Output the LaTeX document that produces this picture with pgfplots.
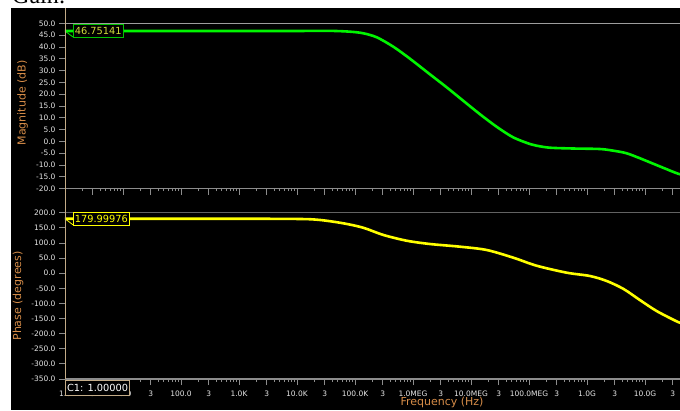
\documentclass[border=0pt]{standalone}
\usepackage{fontspec}
\setmainfont{DejaVu Sans}
\newfontfamily\gainfont{Liberation Serif}
\usepackage{pgfplots}
\pgfplotsset{compat=1.18}
\definecolor{tk}{RGB}{140,140,140}
\definecolor{tl}{RGB}{228,228,228}
\definecolor{lab}{RGB}{214,140,72}
\definecolor{cur}{RGB}{196,172,136}
\definecolor{gr}{RGB}{0,245,0}
\definecolor{yl}{RGB}{255,255,0}
\definecolor{gtxt}{RGB}{210,220,60}
\newcommand{\tre}{\raisebox{4pt}{3}}

\begin{document}
\begin{tikzpicture}
\path[use as bounding box] (0pt,0pt) rectangle (680pt,410pt);
\clip (0pt,0pt) rectangle (680pt,410pt);
\fill[white] (0pt,0pt) rectangle (680pt,410pt);
\node[anchor=base west, inner sep=0pt, font=\gainfont\fontsize{24}{26}\selectfont, text=black] at (12pt,406pt) {Gain:};
\fill[black] (11pt,0pt) rectangle (690pt,402pt);

% ---------------- Magnitude ----------------
\begin{axis}[
  scale only axis, width=615pt, height=165.4pt,
  at={(65pt,221.3pt)}, anchor=south west,
  xmode=log, xmin=1, xmax=4.01e10,
  ymin=-20, ymax=50,
  clip=false,
  axis line style={draw=none},
  xtick pos=left, ytick pos=left,
  tick align=outside,
  major tick length=6pt, minor tick length=2.5pt,
  tick style={draw=tk, line width=0.8pt},
  xtick={1,3,10,30,100,300,1000,3000,1e4,3e4,1e5,3e5,1e6,3e6,1e7,3e7,1e8,3e8,1e9,3e9,1e10,3e10},
  xticklabels={},
  minor xtick={2,4,5,6,7,8,9,20,40,50,60,70,80,90,200,400,500,600,700,800,900,
      2e3,4e3,5e3,6e3,7e3,8e3,9e3,2e4,4e4,5e4,6e4,7e4,8e4,9e4,
      2e5,4e5,5e5,6e5,7e5,8e5,9e5,2e6,4e6,5e6,6e6,7e6,8e6,9e6,
      2e7,4e7,5e7,6e7,7e7,8e7,9e7,2e8,4e8,5e8,6e8,7e8,8e8,9e8,
      2e9,4e9,5e9,6e9,7e9,8e9,9e9,2e10},
  ytick={-20,-15,-10,-5,0,5,10,15,20,25,30,35,40,45,50},
  yticklabels={-20.0,-15.0,-10.0,-5.0,0.0,5.0,10.0,15.0,20.0,25.0,30.0,35.0,40.0,45.0,50.0},
  yticklabel style={font=\fontsize{7.5}{8}\selectfont, text=tl},
  ylabel={Magnitude (dB)},
  ylabel style={font=\fontsize{11}{12}\selectfont, text=lab, at={(axis description cs:-0.0691,0.518)}, anchor=center},
]
\draw[color=tk, line width=1pt] (rel axis cs:0,0) -- (rel axis cs:1.02,0);
\draw[color=tk!85!white, line width=1pt] (rel axis cs:0,1) -- (rel axis cs:1.02,1);
\addplot[gr, line width=2.6pt, smooth] table {
1        46.75
1e3      46.75
1e4      46.75
3.71e4   46.8
8.20e4   46.45
1.39e5   45.77
2.37e5   44.08
4.57e5   40.1
8.87e5   35.0
1.96e6   28.4
3.81e6   22.9
7.36e6   17.2
1.43e7   11.5
2.77e7   6.2
5.36e7   1.7
1.04e8   -1.1
1.35e8   -1.8
2.29e8   -2.65
6.0e8    -3.0
1.66e9   -3.2
2.82e9   -3.9
4.79e9   -5.0
8.13e9   -7.1
1.58e10  -10.0
3.31e10  -13.2
4.17e10  -14.0
};
\draw[gr, line width=0.8pt] (axis cs:1,46.75) -- (axis cs:1.37,44.2);
\node[draw=gr!80!black, fill=black, text=gtxt, line width=0.8pt, anchor=west,
  inner xsep=1.5pt, inner ysep=0pt, minimum height=13pt, xshift=8pt,
  font=\fontsize{9.8}{10}\selectfont] at (axis cs:1,46.75) {46.75141};
\end{axis}

% ---------------- Phase ----------------
\begin{axis}[
  scale only axis, width=615pt, height=166.3pt,
  at={(65pt,31pt)}, anchor=south west,
  xmode=log, xmin=1, xmax=4.01e10,
  ymin=-350, ymax=200,
  clip=false,
  axis line style={draw=none},
  xtick pos=left, ytick pos=left,
  tick align=outside,
  major tick length=6pt, minor tick length=2.5pt,
  tick style={draw=tk, line width=0.8pt},
  xtick={1,3,10,30,100,300,1000,3000,1e4,3e4,1e5,3e5,1e6,3e6,1e7,3e7,1e8,3e8,1e9,3e9,1e10,3e10},
  xticklabels={1.0,\tre,10.0,\tre,100.0,\tre,1.0K,\tre,10.0K,\tre,100.0K,\tre,1.0MEG,\tre,10.0MEG,\tre,100.0MEG,\tre,1.0G,\tre,10.0G,\tre},
  xticklabel style={font=\fontsize{7.5}{8}\selectfont, text=tl, yshift=-2pt},
  minor xtick={2,4,5,6,7,8,9,20,40,50,60,70,80,90,200,400,500,600,700,800,900,
      2e3,4e3,5e3,6e3,7e3,8e3,9e3,2e4,4e4,5e4,6e4,7e4,8e4,9e4,
      2e5,4e5,5e5,6e5,7e5,8e5,9e5,2e6,4e6,5e6,6e6,7e6,8e6,9e6,
      2e7,4e7,5e7,6e7,7e7,8e7,9e7,2e8,4e8,5e8,6e8,7e8,8e8,9e8,
      2e9,4e9,5e9,6e9,7e9,8e9,9e9,2e10},
  ytick={-350,-300,-250,-200,-150,-100,-50,0,50,100,150,200},
  yticklabels={-350.0,-300.0,-250.0,-200.0,-150.0,-100.0,-50.0,0.0,50.0,100.0,150.0,200.0},
  yticklabel style={font=\fontsize{7.5}{8}\selectfont, text=tl},
  ylabel={Phase (degrees)},
  ylabel style={font=\fontsize{11}{12}\selectfont, text=lab, at={(axis description cs:-0.0764,0.499)}, anchor=center},
  xlabel={Frequency (Hz)},
  xlabel style={font=\fontsize{11}{12}\selectfont, text=lab, at={(axis description cs:0.613,-0.144)}, anchor=center},
]
\draw[color=tk, line width=1.4pt] (rel axis cs:0,0) -- (rel axis cs:1.02,0);
\draw[color=tk!70!black, line width=1pt] (rel axis cs:0,1) -- (rel axis cs:1.02,1);
\addplot[yl, line width=2.6pt, smooth] table {
1        180
1e3      180
1.12e4   179.2
2.51e4   175.9
6.31e4   164.9
1.38e5   150.4
3.09e5   126.3
7.76e5   107.4
1.95e6   96.5
6.46e6   87.6
1.86e7   76.7
5.37e7   51.2
1.35e8   24.7
4.47e8   1.6
1.12e9   -9.3
2.19e9   -25.9
4.27e9   -52.3
8.13e9   -88.7
1.58e10  -125
3.39e10  -158
4.17e10  -165
};
\draw[yl, line width=0.8pt] (axis cs:1,180) -- (axis cs:1.37,160);
\node[draw=yl, fill=black, text=yl, line width=0.8pt, anchor=west,
  inner xsep=1.5pt, inner ysep=0pt, minimum height=13pt, xshift=8pt,
  font=\fontsize{9.8}{10}\selectfont] at (axis cs:1,180) {179.99976};
\draw[cur, line width=0.9pt] (axis cs:1,-350) -- (axis cs:1,200);
\node[draw=cur, fill=black, text=white, line width=1pt, anchor=north west,
  inner xsep=1.5pt, inner ysep=0pt, minimum height=15pt, yshift=-1pt,
  font=\fontsize{9.8}{10}\selectfont] at (axis cs:1,-350) {C1: 1.00000};
\end{axis}
\draw[cur, line width=0.9pt] (65pt,197pt) -- (65pt,402pt);
\end{tikzpicture}
\end{document}
